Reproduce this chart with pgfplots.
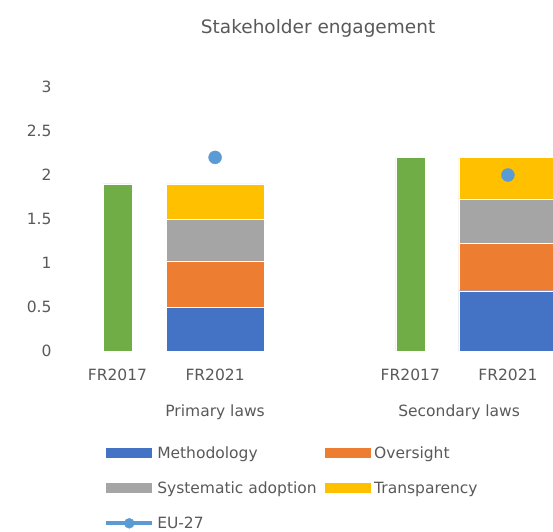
\documentclass[border=0pt]{standalone}
\usepackage{fontspec}
\setmainfont{DejaVu Sans}
\usepackage{pgfplots}
\pgfplotsset{compat=1.18}
\definecolor{txt}{HTML}{595959}
\definecolor{cBlue}{HTML}{4472C4}
\definecolor{cOrange}{HTML}{ED7D31}
\definecolor{cGray}{HTML}{A5A5A5}
\definecolor{cYellow}{HTML}{FFC000}
\definecolor{cGreen}{HTML}{70AD47}
\definecolor{cEU}{HTML}{5B9BD5}
\newcommand{\lbl}{\fontsize{15.5}{18}\selectfont}
\pgfplotsset{
  frame/.style={
    at={(68.7pt,180pt)}, anchor=south west,
    scale only axis, width=484.3pt, height=264pt,
    xmin=-0.5, xmax=4.462, ymin=0, ymax=3,
    axis line style={draw=none}, tick style={draw=none},
  },
}
\begin{document}
\begin{tikzpicture}
\begin{axis}[frame,
  ybar stacked, bar width=98pt,
  xtick={0,1,3,4}, xticklabels={FR2017,FR2021,FR2017,FR2021},
  ytick={0,0.5,1,1.5,2,2.5,3},
  /pgf/number format/assume math mode=true,
  tick label style={font=\lbl, color=txt},
  x tick label style={anchor=base, inner sep=0pt, yshift=-29pt},
  y tick label style={anchor=east, inner sep=0pt, xshift=-17pt},
  title={Stakeholder engagement},
  title style={at={(0.515,1.2)}, anchor=center, font=\fontsize{18.5}{22}\selectfont, color=txt},
  legend columns=2,
  legend cell align=left,
  legend style={at={(0.073,-0.36)}, anchor=north west, draw=none, fill=none,
    inner sep=0pt, font=\lbl, text=txt, row sep=22pt,
    nodes={inner sep=0pt},
    /tikz/every odd column/.append style={column sep=3pt},
    /tikz/every even column/.append style={column sep=8.5pt}},
  legend image code/.code={\fill[#1,draw=none] (0pt,-5pt) rectangle (46pt,5pt);},
  after end axis/.code={
    \node[font=\lbl, text=txt, anchor=base, yshift=-65pt] at (axis cs:1,0) {Primary laws};
    \node[font=\lbl, text=txt, anchor=base, yshift=-65pt] at (axis cs:3.5,0) {Secondary laws};
  },
]
\addplot[fill=cBlue, draw=white, line width=0.4pt] coordinates {(1,0.5) (4,0.685)};
\addlegendentry{Methodology}
\addplot[fill=cOrange, draw=white, line width=0.4pt] coordinates {(1,0.525) (4,0.535)};
\addlegendentry{Oversight}
\addplot[fill=cGray, draw=white, line width=0.4pt] coordinates {(1,0.475) (4,0.51)};
\addlegendentry{Systematic adoption}
\addplot[fill=cYellow, draw=white, line width=0.4pt] coordinates {(1,0.4) (4,0.47)};
\addlegendentry{Transparency}
\addlegendimage{legend image code/.code={
  \draw[cEU, line width=4pt] (0pt,0pt) -- (46pt,0pt);
  \fill[cEU] (23pt,0pt) circle (5pt);}}
\addlegendentry{EU-27}
\end{axis}
\begin{axis}[frame, xtick=\empty, ytick=\empty]
\addplot[ybar, bar width=29pt, bar shift=0pt, fill=cGreen, draw=white, line width=0.4pt]
  coordinates {(0,1.9) (3,2.2)};
\addplot[only marks, mark=*, mark size=6.5pt, color=cEU] coordinates {(1,2.2) (4,2.0)};
\end{axis}
\pgfresetboundingbox
\useasboundingbox (0pt,0pt) rectangle (553pt,531pt);
\end{tikzpicture}
\end{document}
